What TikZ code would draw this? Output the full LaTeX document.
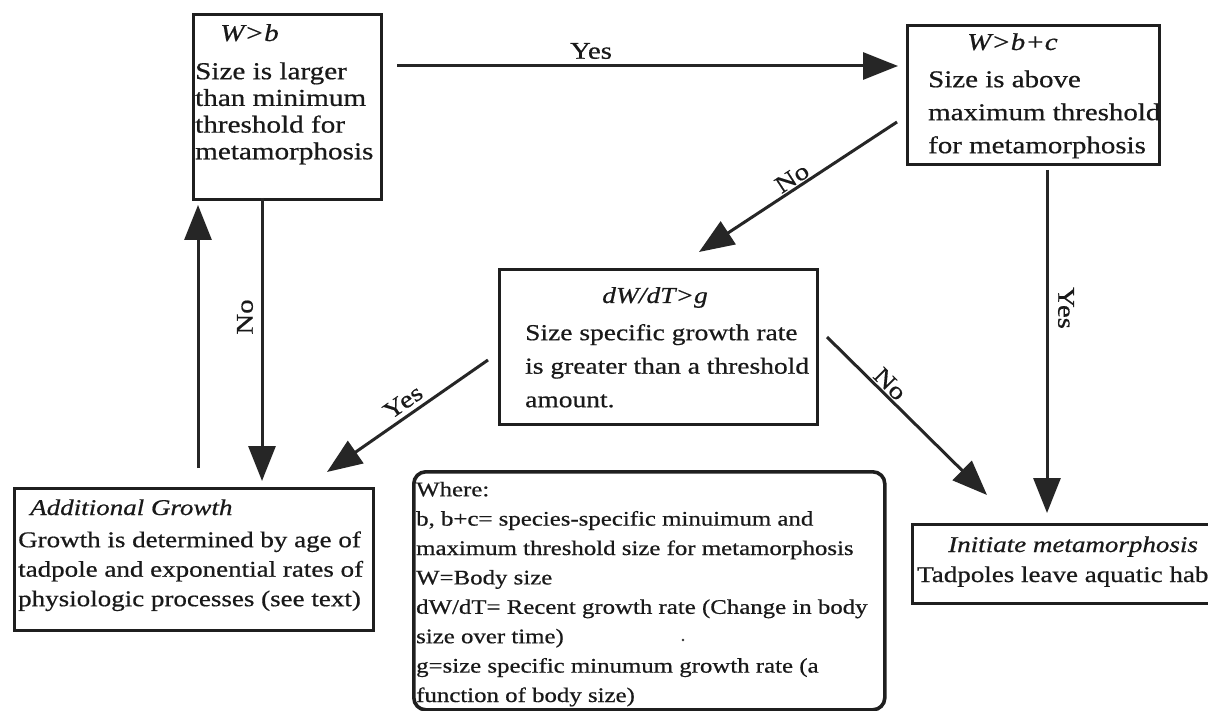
\documentclass[tikz,border=0pt]{standalone}
\usepackage{fontspec}
\setmainfont{Liberation Serif}[FakeStretch=1.2, FakeBold=0.6]
\usetikzlibrary{arrows.meta}

\newcommand{\setfs}[2]{\fontsize{#1}{#2}\selectfont}

\begin{document}
\begin{tikzpicture}[x=1pt, y=-1pt,
  box/.style={draw=black!88, line width=2.8pt, inner sep=0pt, anchor=north west},
  txt/.style={anchor=north west, inner sep=0pt, align=left, text=black!90},
  ttl/.style={anchor=base west, inner sep=0pt, text=black!90},
  flow/.style={draw=black!85, line width=3pt, -{Triangle[length=35pt, width=27pt]}},
  lbl/.style={inner sep=0pt, text=black!90, font=\setfs{24}{24}}]

\useasboundingbox (0,0) rectangle (1208,711);
\clip (0,0) rectangle (1208,711);
\fill[white] (0,0) rectangle (1208,711);

% ---- decision boxes ----
\node[box, minimum width=188pt, minimum height=185pt] (minbox) at (192,13) {};
\node[ttl, font=\setfs{24.3}{26.7}] (minttl) at (220,41) {\textit{W>b}};
\node[txt, font=\setfs{24.3}{26.7}] (mintxt) at (195,59.6)
  {\rule{0pt}{19.4pt}Size is larger\\than minimum\\threshold for\\metamorphosis};

\node[box, minimum width=252pt, minimum height=139pt] (maxbox) at (906,24) {};
\node[ttl, font=\setfs{24.1}{33}] (maxttl) at (967,50) {\textit{W>b+c}};
\node[txt, font=\setfs{24.1}{33}] (maxtxt) at (928,67.7)
  {\rule{0pt}{19.3pt}Size is above\\maximum threshold\\for metamorphosis};

\node[box, minimum width=318pt, minimum height=155pt] (ratebox) at (498,268) {};
\node[ttl, anchor=base, font=\setfs{22.9}{33.5}] (ratettl) at (655,303) {\textit{dW/dT>g}};
\node[txt, font=\setfs{22.9}{33.5}] (ratetxt) at (525,321.7)
  {\rule{0pt}{18.3pt}Size specific growth rate\\is greater than a threshold\\amount.};

% ---- outcome boxes ----
\node[box, minimum width=359pt, minimum height=142pt] (growbox) at (13,487) {};
\node[ttl, font=\setfs{22.5}{29.5}] (growttl) at (30,515) {\textit{Additional Growth}};
\node[txt, font=\setfs{22.5}{29.5}] (growtxt) at (18,529)
  {\rule{0pt}{18pt}Growth is determined by age of\\tadpole and exponential rates of\\physiologic processes (see text)};

\node[box, minimum width=330pt, minimum height=79pt] (metabox) at (911,523) {};
\node[ttl, font=\setfs{22.5}{29.5}] (metattl) at (948,552) {\textit{Initiate metamorphosis}};
\node[ttl, font=\setfs{22.5}{29.5}] (metatxt) at (917,582) {Tadpoles leave aquatic habitat};

% ---- key ----
\node[box, line width=3.6pt, rounded corners=12pt, minimum width=471pt, minimum height=238pt] (keybox) at (412,470) {};
\node[txt, font=\setfs{20.7}{29.4}] (keytxt) at (416,479.4)
  {\rule{0pt}{16.6pt}Where:\\
   b, b+c= species-specific minuimum and\\
   maximum threshold size for metamorphosis\\
   W=Body size\\
   dW/dT= Recent growth rate (Change in body\\
   size over time)\\
   g=size specific minumum growth rate (a\\
   function of body size)};
\fill[black!80] (683,640) circle (1.4pt);

% ---- connector ends ----
\coordinate (yesAs) at (397,66);   \coordinate (yesAe) at (898,66);
\coordinate (noAs)  at (897,122);  \coordinate (noAe)  at (699,252);
\coordinate (yesBs) at (1047,170); \coordinate (yesBe) at (1047,513);
\coordinate (yesCs) at (488,360);  \coordinate (yesCe) at (327,472);
\coordinate (noBs)  at (827,337);  \coordinate (noBe)  at (987,495);
\coordinate (noCs)  at (262,198);  \coordinate (noCe)  at (262,481);
\coordinate (upS)   at (198,468);  \coordinate (upE)   at (198,205);

% ---- connectors ----
\draw[flow] (yesAs) -- (yesAe);
\draw[flow] (noAs) -- (noAe);
\draw[flow] (yesBs) -- (yesBe);
\draw[flow] (yesCs) -- (yesCe);
\draw[flow] (noBs) -- (noBe);
\draw[flow] (noCs) -- (noCe);
\draw[flow] (upS) -- (upE);

% ---- connector labels ----
\node[lbl] (yesAl) at (591,51) {Yes};
\node[lbl, rotate=33] (noAl) at (792,178) {No};
\node[lbl, rotate=-90] (yesBl) at (1066,308) {Yes};
\node[lbl, rotate=35] (yesCl) at (403,402) {Yes};
\node[lbl, rotate=-45] (noBl) at (890,384) {No};
\node[lbl, rotate=90] (noCl) at (245,317) {No};
\end{tikzpicture}
\end{document}
